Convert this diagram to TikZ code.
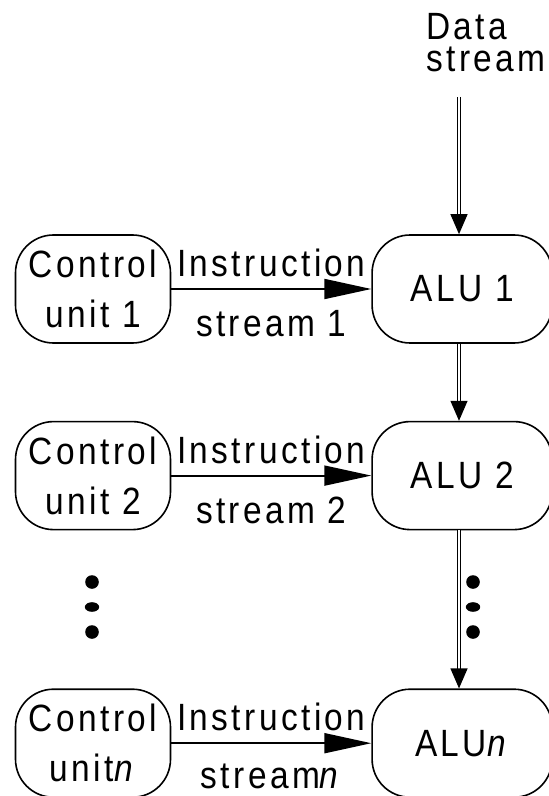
\documentclass[tikz,border=0pt]{standalone}
\usepackage{fontspec}
\usepackage{tikz}
\usetikzlibrary{arrows.meta,positioning}
\newfontfamily\diagfont{Liberation Sans}[LetterSpace=9,FakeStretch=0.88]
\tikzset{
  ubox/.style={draw=black, line width=0.8pt, rectangle, rounded corners=19pt, align=center, font=\diagfont\fontsize{19}{25}\selectfont, inner sep=0pt, minimum height=54pt, minimum width=77.5pt},
  abox/.style={ubox, minimum width=90pt},
  farr/.style={-{Triangle[length=23.5pt,width=10pt]}, line width=0.9pt},
  darr/.style={-{Triangle[length=10pt,width=8.5pt]}, line width=0.6pt, double=white, double distance=0.7pt},
  slabel/.style={font=\diagfont\fontsize{19}{25}\selectfont, inner sep=0pt}
}
\begin{document}
\begin{tikzpicture}[x=0.5pt, y=-0.5pt]
\useasboundingbox (0,0) rectangle (549,796);
\node[ubox] (cu1) at (93,289) {Control\\unit 1};
\node[abox, right=100pt of cu1] (alu1) {ALU 1};
\node[ubox, below=38.5pt of cu1] (cu2) {Control\\unit 2};
\node[abox, right=100pt of cu2] (alu2) {ALU 2};
\node[ubox, below=79pt of cu2] (cun) {Control\\unit\textit{n}};
\node[abox, right=100pt of cun] (alun) {ALU\textit{n}};
\node[slabel, anchor=base west, align=left, font=\diagfont\fontsize{19}{16}\selectfont] (dlab) at (426,72) {Data\\stream};
\coordinate (ds) at (459,97);
% instruction streams
\draw[farr] (cu1)--node[slabel, above=5.5pt]{Instruction} node[slabel, below=10pt]{stream 1} (alu1);
\draw[farr] (cu2)--node[slabel, above=5.5pt]{Instruction} node[slabel, below=10pt]{stream 2} (alu2);
\draw[farr] (cun)--node[slabel, above=5.5pt]{Instruction} node[slabel, below=10pt]{stream\textit{n}} (alun);
% data stream
\draw[darr] (ds)--(ds|-alu1.north);
\draw[darr] (alu1.south-|ds)--(alu2.north-|ds);
\draw[darr] (alu2.south-|ds)--(alun.north-|ds);
% dots
\foreach \x in {92,473}{
  \fill (\x,582) circle (3.4pt);
  \fill (\x,607) ellipse (3.6pt and 2.4pt);
  \fill (\x,632) circle (3.4pt);
}
\end{tikzpicture}
\end{document}
